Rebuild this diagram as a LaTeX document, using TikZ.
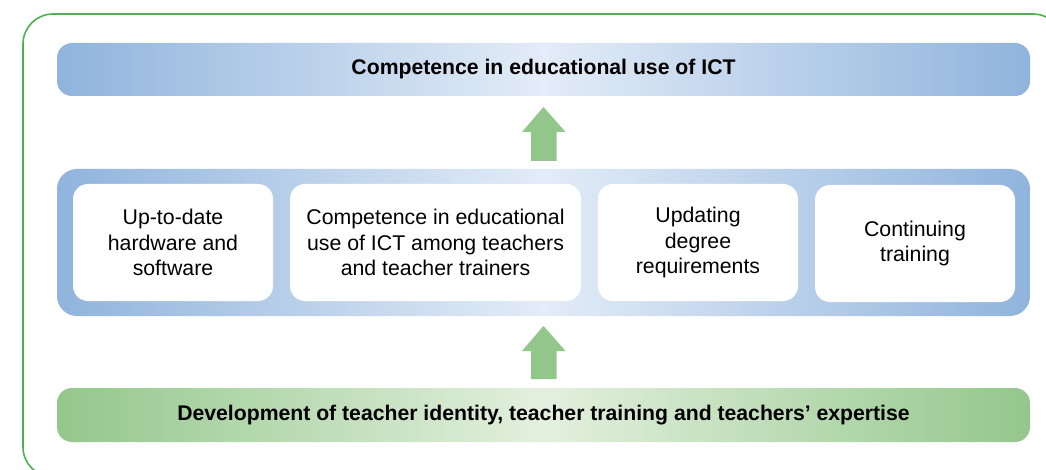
\documentclass[tikz,border=0pt]{standalone}
\usepackage{fontspec}
\setmainfont{Liberation Sans}
\usetikzlibrary{calc}
\definecolor{frameg}{HTML}{4DB152}
\definecolor{blueedge}{HTML}{90B4DD}
\definecolor{bluemid}{HTML}{E3ECF7}
\definecolor{greenedge}{HTML}{94C78C}
\definecolor{greenmid}{HTML}{E3F0DE}
\definecolor{arrowg}{HTML}{93C68B}
\begin{document}
\begin{tikzpicture}[x=1pt,y=-1pt,
  bar/.style={minimum width=973pt, inner sep=0pt, rounded corners=15pt,
    font=\fontsize{21.2}{25.5}\selectfont\bfseries},
  bluebar/.style={bar, left color=blueedge, right color=blueedge, middle color=bluemid},
  greenbar/.style={bar, left color=greenedge, right color=greenedge, middle color=greenmid},
  itembox/.style={fill=white, rounded corners=15pt, minimum height=117pt, inner sep=0pt,
    align=center, font=\fontsize{21.3}{25.5}\selectfont},
  blockarrow/.style={fill=arrowg}
]
\useasboundingbox (0,0) rectangle (1046,470);
\clip (0,0) rectangle (1046,470);
\fill[white] (0,0) rectangle (1046,470);
\draw[frameg, line width=1.6pt, rounded corners=30pt] (23,14) rectangle (1063,477);

\node[bluebar, minimum height=53pt] (top) at (543.5,69.5) {Competence in educational use of ICT};
\node[bluebar, minimum height=147pt, rounded corners=20pt] (mid) at (543.5,242.5) {};
\node[itembox, minimum width=200pt] (b1) at (173,242.5) {Up-to-date\\hardware and\\software};
\node[itembox, minimum width=291pt] (b2) at (435.5,242.5) {Competence in educational\\use of ICT among teachers\\and teacher trainers};
\node[itembox, minimum width=200pt] (b3) at (698,242.5) {Updating\\degree\\requirements};
\node[itembox, minimum width=200pt] (b4) at (915,243.5) {Continuing\\training};
\node[greenbar, minimum height=54pt] (bot) at (543.5,415) {Development of teacher identity, teacher training and teachers’ expertise};

\coordinate (a1) at (543.5,161);
\coordinate (a2) at (543.5,379);
\fill[blockarrow] ($(a1)+(-12.5,0)$) -- ++(0,-29) -- ++(-9,0) -- (543.5,107) -- (565.5,132) -- ++(-9,0) -- ++(0,29) -- cycle;
\fill[blockarrow] ($(a2)+(-12.5,0)$) -- ++(0,-28) -- ++(-9,0) -- (543.5,326) -- (565.5,351) -- ++(-9,0) -- ++(0,28) -- cycle;
\end{tikzpicture}
\end{document}
